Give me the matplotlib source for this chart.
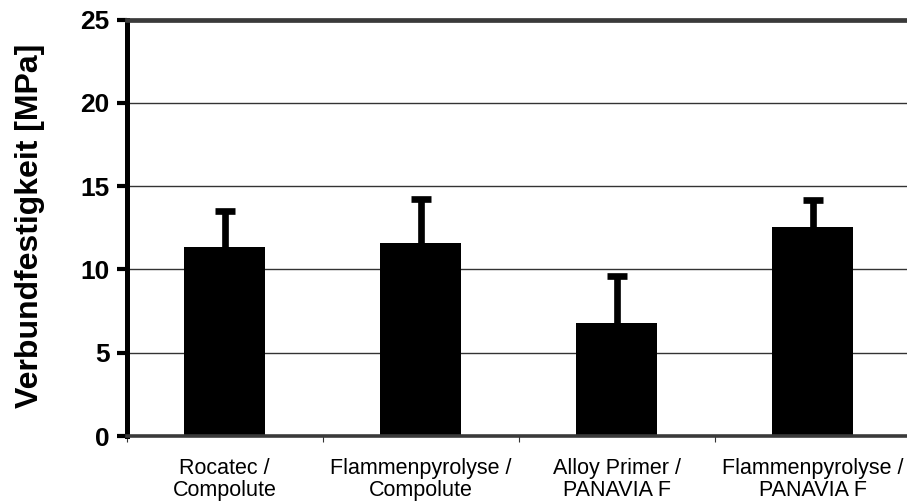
import matplotlib
matplotlib.use("Agg")
import matplotlib.pyplot as plt
import numpy as np

# Verbundfestigkeit je Verfahren (Mittelwert + Standardabweichung)
kategorien = ["Rocatec /\nCompolute", "Flammenpyrolyse /\nCompolute",
              "Alloy Primer /\nPANAVIA F", "Flammenpyrolyse /\nPANAVIA F"]
mittelwerte = [11.36, 11.6, 6.76, 12.53]
fehler = [2.16, 2.63, 2.86, 1.64]

plt.rcParams['font.family'] = ['Liberation Sans', 'DejaVu Sans']

fig = plt.figure(figsize=(9.07, 5.04), dpi=100)
ax = fig.add_axes([0.1397, 0.1349, 0.8644, 0.8264])

x = np.arange(len(kategorien))
# Fehlerbalken hinter den Balken, so dass nur der obere Teil sichtbar ist
ax.errorbar(x, mittelwerte, yerr=fehler, fmt='none',
            ecolor='black', elinewidth=4.8, capsize=7.5, capthick=4.8, zorder=3)
ax.bar(x, mittelwerte, width=0.413, color='black', zorder=4)

ax.set_xlim(-0.5, 3.5)
ax.set_ylim(0, 25)
ax.set_yticks([0, 5, 10, 15, 20, 25])
ax.yaxis.grid(True, color='#333333', linewidth=1.0, zorder=0)

ax.spines['right'].set_visible(False)
ax.spines['left'].set_linewidth(3.6)
ax.spines['left'].set_color('black')
ax.spines['top'].set_linewidth(3.4)
ax.spines['top'].set_color('#3a3a3a')
ax.spines['bottom'].set_linewidth(2.6)
ax.spines['bottom'].set_color('#3a3a3a')
for sp in ax.spines.values():
    sp.set_zorder(5)

ax.tick_params(axis='y', direction='out', length=7.5, width=3.0,
               labelsize=19, pad=5)
for lab in ax.get_yticklabels():
    lab.set_fontweight('bold')

ax.set_xticks(x)
ax.set_xticklabels(kategorien, fontsize=15.5, linespacing=1.05)
ax.tick_params(axis='x', which='major', length=0, pad=16)
ax.set_xticks(np.arange(-0.5, 4.0, 1.0), minor=True)
ax.tick_params(axis='x', which='minor', direction='out', length=4,
               width=0.8, color='#333333')

ax.set_ylabel("Verbundfestigkeit [MPa]", fontsize=23, fontweight='bold')
ax.yaxis.set_label_coords(-0.104, 0.505)

fig.savefig("out.png", dpi=100)
